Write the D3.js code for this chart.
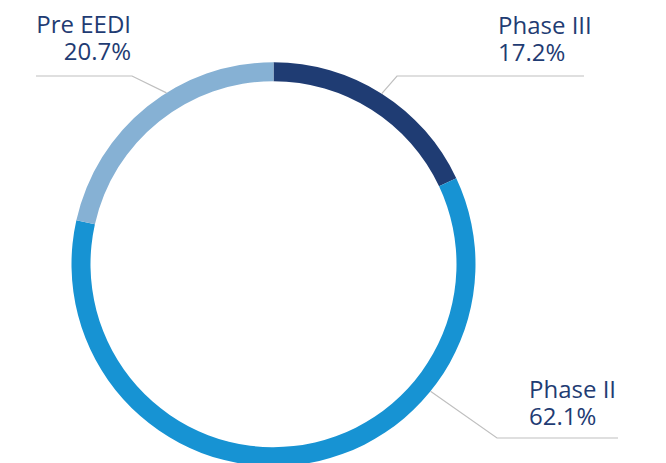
<!DOCTYPE html>
<html><head><meta charset="utf-8">
<script src="https://cdn.jsdelivr.net/npm/d3@7"></script>
<style>html,body{margin:0;padding:0;background:#fff;}svg{display:block;}</style>
</head><body>
<svg id="c" width="666" height="463"></svg>
<script>
const categories = ["Phase III", "Phase II", "Pre EEDI"];
// arc shares as drawn in the picture (measured from the ring's segment boundaries)
const values = [18.0, 60.5, 21.5];
// percentages as printed in the labels
const valueLabels = ["17.2%", "62.1%", "20.7%"];
const colors = ["#1f3c73", "#1793d3", "#86b1d4"];

const W = 666, H = 463, cx = 273.5, cy = 264.2, rOuter = 202, rInner = 183;
// label layout: anchor angle (deg) on ring, elbow point, line end, text pos, alignment
const layout = [
  {ang: 32.4, elbow: [397, 76], end: [584, 76], tx: 498, ty: 34, anchor: "start"},
  {ang: 129, elbow: [497, 438], end: [618, 438], tx: 529, ty: 398, anchor: "start"},
  {ang: -32, elbow: [132, 76], end: [36, 76], tx: 131, ty: 33, anchor: "end"}
];

const svg = d3.select("#c");
const pie = d3.pie().sort(null).value(d => d)(values);
const arc = d3.arc().innerRadius(rInner).outerRadius(rOuter);
const g = svg.append("g").attr("transform", `translate(${cx},${cy})`);
g.selectAll("path").data(pie).join("path")
  .attr("d", arc).attr("fill", (d, i) => colors[i]);

layout.forEach((L, i) => {
  const a = L.ang * Math.PI / 180;
  const p0 = [cx + rOuter * Math.sin(a), cy - rOuter * Math.cos(a)];
  svg.append("polyline")
    .attr("points", [p0, L.elbow, L.end].map(p => p.join(",")).join(" "))
    .attr("fill", "none").attr("stroke", "#bfbfbf").attr("stroke-width", 1.2);
  const t = svg.append("text")
    .attr("x", L.tx).attr("y", L.ty)
    .attr("text-anchor", L.anchor)
    .attr("font-family", "'Open Sans', 'Noto Sans', sans-serif")
    .attr("font-size", 24).attr("fill", "#1f3c73");
  t.append("tspan").attr("x", L.tx).text(categories[i]);
  t.append("tspan").attr("x", L.tx).attr("dy", 27).text(valueLabels[i]);
});
</script>
</body></html>
